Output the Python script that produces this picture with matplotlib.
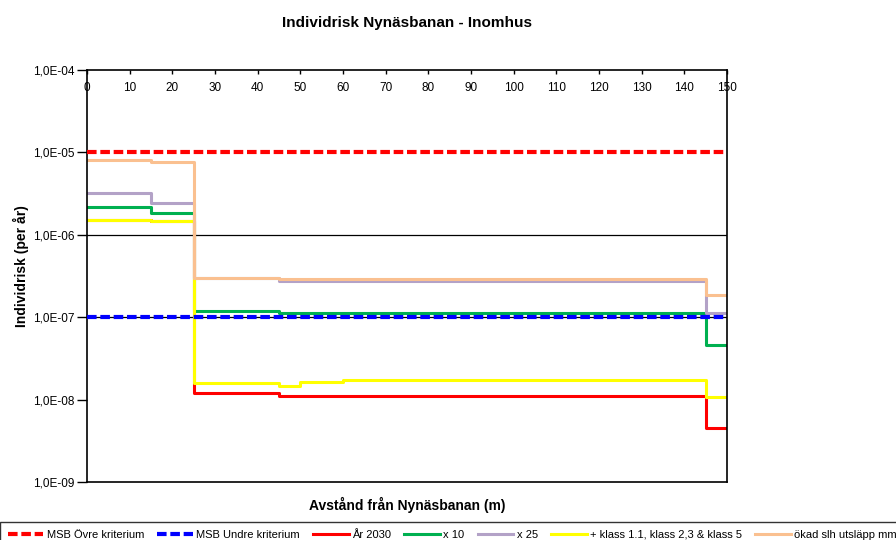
import matplotlib
matplotlib.use("Agg")
import matplotlib.pyplot as plt
from matplotlib.ticker import FixedLocator, FuncFormatter, NullLocator

plt.rcParams['font.family'] = ['Liberation Sans', 'DejaVu Sans']

# distance breakpoints (m) and risk per segment (per year)
x_base = [0, 15, 25, 45, 145, 150]
x_yellow = [0, 15, 25, 45, 50, 60, 145, 150]
x_crit = [0, 150]

msb_ovre = [1e-5, 1e-5]
msb_undre = [1e-7, 1e-7]
ar_2030 = [1.5e-6, 1.46e-6, 1.19e-8, 1.11e-8, 4.5e-9]
x10 = [2.16e-6, 1.85e-6, 1.19e-7, 1.11e-7, 4.6e-8]
x25 = [3.25e-6, 2.45e-6, 2.95e-7, 2.75e-7, 1.12e-7]
klass = [1.51e-6, 1.46e-6, 1.58e-8, 1.48e-8, 1.65e-8, 1.74e-8, 1.08e-8]
okad = [8.0e-6, 7.6e-6, 3.0e-7, 2.9e-7, 1.88e-7]

labels = ['MSB Övre kriterium', 'MSB Undre kriterium', 'År 2030', 'x 10', 'x 25',
          '+ klass 1.1, klass 2,3 & klass 5', 'ökad slh utsläpp mm']
y_ticks = [1e-9, 1e-8, 1e-7, 1e-6, 1e-5, 1e-4]
x_ticks = list(range(0, 151, 10))


def steps(xs, vals):
    return xs, list(vals) + [vals[-1]]


fig = plt.figure(figsize=(8.96, 5.40), dpi=100)
ax = fig.add_axes([87/896, 1-482/540, 640/896, 412/540])

ax.axhline(1e-6, color='black', lw=0.9, zorder=1)
ax.axhline(1e-7, color='black', lw=0.9, zorder=1)

lw = 2.2
h1, = ax.plot(x_crit, msb_ovre, color='#FF0000', lw=3, dashes=(2.3, 0.9), label=labels[0], zorder=3)
h2, = ax.plot(x_crit, msb_undre, color='#0000FF', lw=3, dashes=(2.3, 0.9), label=labels[1], zorder=3)
xs, ys = steps(x_base, ar_2030)
h3, = ax.step(xs, ys, where='post', color='#FF0000', lw=lw, label=labels[2], zorder=2)
xs, ys = steps(x_base, x10)
h4, = ax.step(xs, ys, where='post', color='#00B050', lw=lw, label=labels[3], zorder=2)
xs, ys = steps(x_base, x25)
h5, = ax.step(xs, ys, where='post', color='#B3A2C7', lw=lw, label=labels[4], zorder=2)
xs, ys = steps(x_yellow, klass)
h6, = ax.step(xs, ys, where='post', color='#FFFF00', lw=lw, label=labels[5], zorder=2)
xs, ys = steps(x_base, okad)
h7, = ax.step(xs, ys, where='post', color='#FAC090', lw=lw, label=labels[6], zorder=2)

ax.set_yscale('log')
ax.set_ylim(1e-9, 1e-4)
ax.set_xlim(0, 150)
ax.yaxis.set_major_locator(FixedLocator(y_ticks))
ax.yaxis.set_minor_locator(NullLocator())
ax.yaxis.set_major_formatter(FuncFormatter(lambda v, p: ('%.1E' % v).replace('.', ',')))
ax.tick_params(axis='y', direction='out', length=7, width=1, pad=2, labelsize=8.5)

# x axis sits on top, labels drawn just inside the plot area
ax.xaxis.set_major_locator(FixedLocator(x_ticks))
ax.xaxis.tick_top()
ax.tick_params(axis='x', direction='in', length=3, width=1, pad=-17, labelsize=8.5)

for s in ax.spines.values():
    s.set_linewidth(1.2)

ax.set_title('Individrisk Nynäsbanan - Inomhus', fontsize=11, fontweight='bold', pad=31)
ax.set_xlabel('Avstånd från Nynäsbanan (m)', fontsize=10, fontweight='bold')
ax.xaxis.set_label_coords(0.5, -0.035)
ax.set_ylabel('Individrisk (per år)', fontsize=10, fontweight='bold')
ax.yaxis.set_label_coords(-0.09, 0.523)

leg = fig.legend(handles=[h1, h2, h3, h4, h5, h6, h7], loc='upper left',
                 bbox_to_anchor=(0.0, 1-522/540), ncol=7, fontsize=8,
                 frameon=True, fancybox=False, edgecolor='black',
                 handlelength=3.2, handletextpad=0.3, columnspacing=1.2,
                 borderpad=0.7, borderaxespad=0)
leg.get_frame().set_linewidth(1.0)

fig.savefig('out.png', dpi=100)
